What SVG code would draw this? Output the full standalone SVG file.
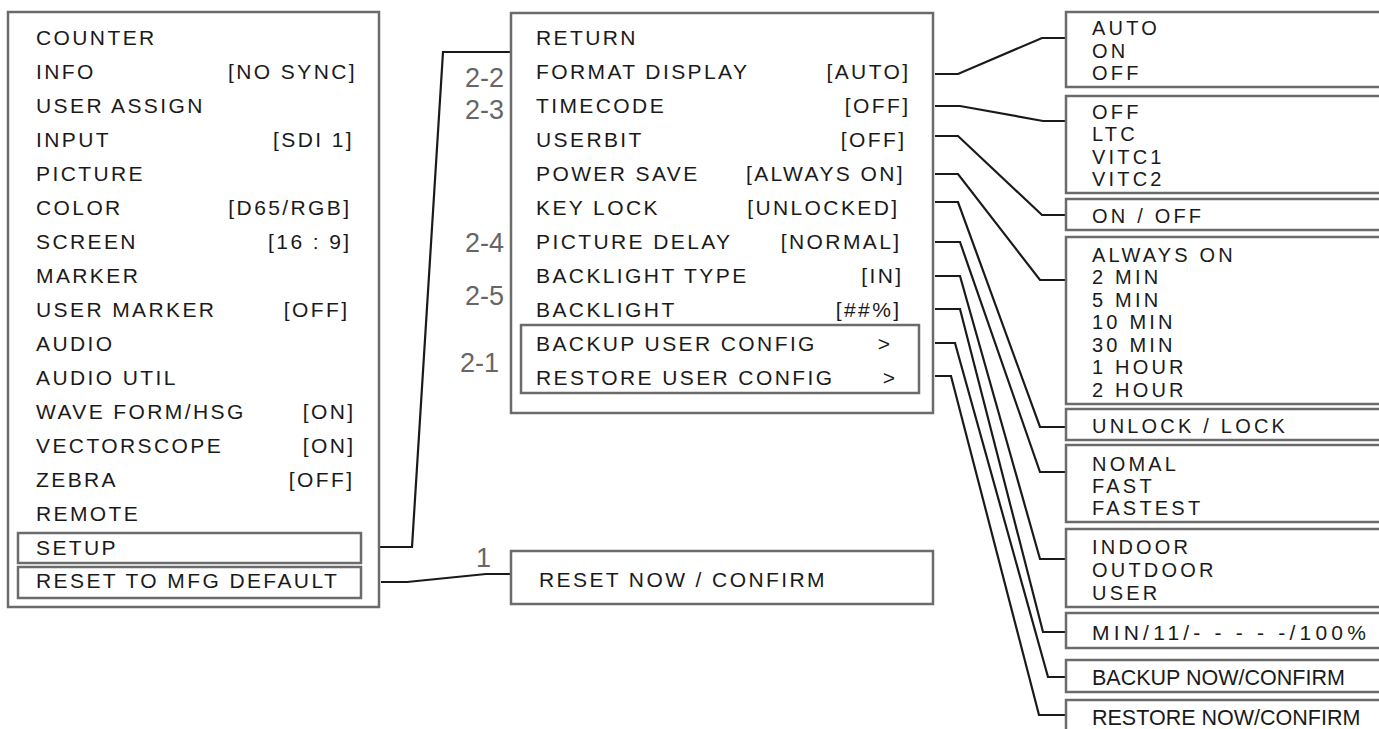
<svg xmlns="http://www.w3.org/2000/svg" width="1379" height="729" viewBox="0 0 1379 729">
<style>
.bx{fill:none;stroke:#6b6b6b;stroke-width:2.5}
.t{font-family:"Liberation Sans",Arial,sans-serif;font-size:21px;letter-spacing:2.4px;fill:#1a1a1a}
.r{text-anchor:end}
.o{font-family:"Liberation Sans",Arial,sans-serif;font-size:20px;letter-spacing:3.2px;fill:#1a1a1a}
.n{font-family:"Liberation Sans",Arial,sans-serif;font-size:21.5px;fill:#1a1a1a}
.lb{font-family:"Liberation Sans",Arial,sans-serif;font-size:27px;fill:#666;text-anchor:end}
.c{fill:none;stroke:#1a1a1a;stroke-width:2.2}
</style>
<rect width="1379" height="729" fill="#fff"/>
<g id="connectors">
<polyline class="c" points="380,547 412,547 443,52 511,52"/>
<polyline class="c" points="381,582 407,582 486,574 511,574"/>
<polyline class="c" points="935,74 958,74 1042,38 1066,38"/>
<polyline class="c" points="935,106 960,106 1043,121 1066,121"/>
<polyline class="c" points="935,136 958,136 1042,215 1066,215"/>
<polyline class="c" points="935,174 958,174 1040,280 1066,280"/>
<polyline class="c" points="935,202 958,202 1040,427 1066,427"/>
<polyline class="c" points="935,242 960,242 1040,472 1066,472"/>
<polyline class="c" points="935,276 960,276 1040,559 1066,559"/>
<polyline class="c" points="935,309 960,309 1043,632 1066,632"/>
<polyline class="c" points="935,343 955,343 1048,677 1066,677"/>
<polyline class="c" points="935,376 951,376 1039,715 1066,715"/>
</g>
<g id="main-menu">
<rect class="bx" x="8" y="12" width="371" height="595"/>
<rect class="bx" x="18" y="533" width="343" height="30"/>
<rect class="bx" x="18" y="567" width="343" height="31"/>
<text class="t" x="36" y="45">COUNTER</text>
<text class="t" x="36" y="79">INFO</text><text class="t r" x="357" y="79">[NO SYNC]</text>
<text class="t" x="36" y="113">USER ASSIGN</text>
<text class="t" x="36" y="147">INPUT</text><text class="t r" x="354" y="147">[SDI 1]</text>
<text class="t" x="36" y="181">PICTURE</text>
<text class="t" x="36" y="215">COLOR</text><text class="t r" x="351.5" y="215">[D65/RGB]</text>
<text class="t" x="36" y="249">SCREEN</text><text class="t r" x="351.5" y="249">[16 : 9]</text>
<text class="t" x="36" y="283">MARKER</text>
<text class="t" x="36" y="317">USER MARKER</text><text class="t r" x="349.5" y="317">[OFF]</text>
<text class="t" x="36" y="351">AUDIO</text>
<text class="t" x="36" y="385">AUDIO UTIL</text>
<text class="t" x="36" y="419">WAVE FORM/HSG</text><text class="t r" x="355.5" y="419">[ON]</text>
<text class="t" x="36" y="453">VECTORSCOPE</text><text class="t r" x="355.5" y="453">[ON]</text>
<text class="t" x="36" y="487">ZEBRA</text><text class="t r" x="354.5" y="487">[OFF]</text>
<text class="t" x="36" y="521">REMOTE</text>
<text class="t" x="36" y="555">SETUP</text>
<text class="t" x="36" y="588">RESET TO MFG DEFAULT</text>
</g>
<g id="setup-menu">
<rect class="bx" x="511" y="13" width="422" height="400"/>
<rect class="bx" x="521" y="325" width="398" height="68"/>
<text class="t" x="536" y="45">RETURN</text>
<text class="t" x="536" y="79">FORMAT DISPLAY</text><text class="t r" x="910.5" y="79">[AUTO]</text>
<text class="t" x="536" y="113">TIMECODE</text><text class="t r" x="910.5" y="113">[OFF]</text>
<text class="t" x="536" y="147">USERBIT</text><text class="t r" x="906.5" y="147">[OFF]</text>
<text class="t" x="536" y="181">POWER SAVE</text><text class="t r" x="905" y="181">[ALWAYS ON]</text>
<text class="t" x="536" y="215">KEY LOCK</text><text class="t r" x="899.5" y="215">[UNLOCKED]</text>
<text class="t" x="536" y="249">PICTURE DELAY</text><text class="t r" x="901.5" y="249">[NORMAL]</text>
<text class="t" x="536" y="283">BACKLIGHT TYPE</text><text class="t r" x="903.5" y="283">[IN]</text>
<text class="t" x="536" y="317">BACKLIGHT</text><text class="t r" x="901.5" y="317">[##%]</text>
<text class="t" x="536" y="351">BACKUP USER CONFIG</text><text class="t r" x="892.5" y="351">&gt;</text>
<text class="t" x="536" y="385">RESTORE USER CONFIG</text><text class="t r" x="897.5" y="385">&gt;</text>
</g>
<g id="labels">
<text class="lb" x="504" y="87">2-2</text>
<text class="lb" x="504" y="119">2-3</text>
<text class="lb" x="504" y="252">2-4</text>
<text class="lb" x="504" y="305">2-5</text>
<text class="lb" x="499" y="372">2-1</text>
<text class="lb" x="491" y="567">1</text>
</g>
<g id="reset-confirm">
<rect class="bx" x="511" y="551" width="422" height="53"/>
<text class="t" x="539" y="587">RESET NOW / CONFIRM</text>
</g>
<g id="opt-format">
<rect class="bx" x="1066" y="12" width="330" height="75"/>
<text class="o" x="1092" y="35">AUTO</text>
<text class="o" x="1092" y="57.5">ON</text>
<text class="o" x="1092" y="80">OFF</text>
</g>
<g id="opt-timecode">
<rect class="bx" x="1066" y="96" width="330" height="97"/>
<text class="o" x="1092" y="118.5">OFF</text>
<text class="o" x="1092" y="141">LTC</text>
<text class="o" x="1092" y="163.5">VITC1</text>
<text class="o" x="1092" y="186">VITC2</text>
</g>
<g id="opt-userbit">
<rect class="bx" x="1066" y="199" width="330" height="31"/>
<text class="o" x="1092" y="223">ON / OFF</text>
</g>
<g id="opt-powersave">
<rect class="bx" x="1066" y="237" width="330" height="167"/>
<text class="o" x="1092" y="261.5">ALWAYS ON</text>
<text class="o" x="1092" y="284">2 MIN</text>
<text class="o" x="1092" y="306.5">5 MIN</text>
<text class="o" x="1092" y="329">10 MIN</text>
<text class="o" x="1092" y="351.5">30 MIN</text>
<text class="o" x="1092" y="374">1 HOUR</text>
<text class="o" x="1092" y="396.5">2 HOUR</text>
</g>
<g id="opt-keylock">
<rect class="bx" x="1066" y="409" width="330" height="31"/>
<text class="o" x="1092" y="433">UNLOCK / LOCK</text>
</g>
<g id="opt-delay">
<rect class="bx" x="1066" y="445" width="330" height="77"/>
<text class="o" x="1092" y="470.5">NOMAL</text>
<text class="o" x="1092" y="492.5">FAST</text>
<text class="o" x="1092" y="515">FASTEST</text>
</g>
<g id="opt-bltype">
<rect class="bx" x="1066" y="529" width="330" height="78"/>
<text class="o" x="1092" y="554">INDOOR</text>
<text class="o" x="1092" y="577">OUTDOOR</text>
<text class="o" x="1092" y="600">USER</text>
</g>
<g id="opt-backlight">
<rect class="bx" x="1066" y="613" width="330" height="35"/>
<text class="n" x="1092" y="640" style="letter-spacing:4.2px;font-size:21px">MIN/11/- - - - -/100%</text>
</g>
<g id="opt-backup">
<rect class="bx" x="1066" y="660" width="330" height="32"/>
<text class="n" x="1092" y="685">BACKUP NOW/CONFIRM</text>
</g>
<g id="opt-restore">
<rect class="bx" x="1066" y="700" width="330" height="40"/>
<text class="n" x="1092" y="725">RESTORE NOW/CONFIRM</text>
</g>
</svg>
